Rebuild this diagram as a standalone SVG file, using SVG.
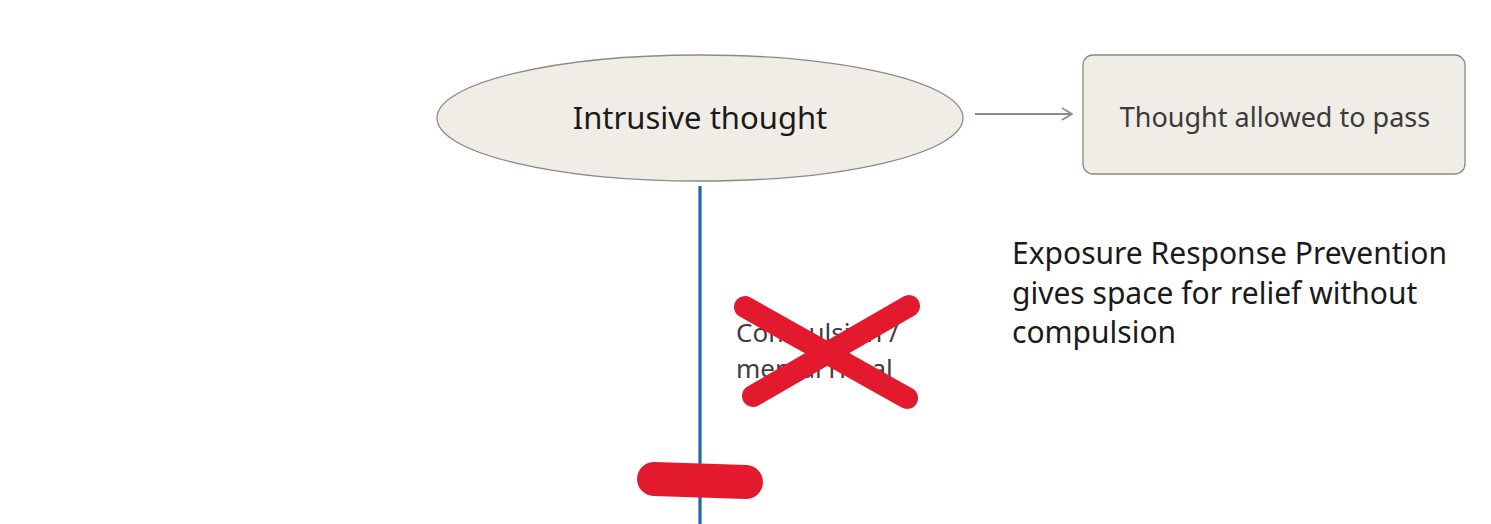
<svg xmlns="http://www.w3.org/2000/svg" width="1491" height="524" viewBox="0 0 1491 524">
<style>
.node{fill:#f0ede6;stroke:#8b8a84;stroke-width:1.3}
.lbl{font-family:"Noto Sans","Open Sans",sans-serif;text-anchor:middle}
.red{stroke:#e31a2e;stroke-linecap:round;fill:none}
.note{font-family:"Noto Sans",sans-serif;font-size:30px;fill:#1a1a1a}
</style>
<defs>
<marker id="arr" markerWidth="14" markerHeight="14" refX="12" refY="7" orient="auto" markerUnits="userSpaceOnUse">
<path d="M2,1 L12,7 L2,13" fill="none" stroke="#8b8a84" stroke-width="1.6"/>
</marker>
</defs>
<rect width="1491" height="524" fill="#fff"/>
<g id="connectors">
<line x1="975" y1="114" x2="1072" y2="114" stroke="#8b8a84" stroke-width="2" marker-end="url(#arr)"/>
<line x1="700" y1="186" x2="700" y2="524" stroke="#2a62a6" stroke-width="3.2"/>
</g>
<g id="intrusive">
<ellipse class="node" cx="700" cy="118" rx="263" ry="63"/>
<text class="lbl" x="700" y="129" font-size="31" fill="#1a1a1a">Intrusive thought</text>
</g>
<g id="pass">
<rect class="node" x="1083" y="55" width="382" height="119" rx="10"/>
<text class="lbl" x="1275" y="127" font-size="27" fill="#3a3a3a">Thought allowed to pass</text>
</g>
<g id="compulsion">
<text x="736" y="342" font-family="Noto Sans,sans-serif" font-size="26" fill="#3e3e3e">Compulsion /</text>
<text x="736" y="378" font-family="Noto Sans,sans-serif" font-size="26" fill="#3e3e3e">mental ritual</text>
<line class="red" x1="745" y1="307" x2="907" y2="398" stroke-width="22"/>
<line class="red" x1="909" y1="306" x2="753" y2="396" stroke-width="22"/>
</g>
<g id="block">
<line class="red" x1="654" y1="479" x2="746" y2="482" stroke-width="34"/>
</g>
<g id="erp">
<text class="note" x="1012" y="264">Exposure Response Prevention</text>
<text class="note" x="1012" y="304">gives space for relief without</text>
<text class="note" x="1012" y="343">compulsion</text>
</g>
</svg>
